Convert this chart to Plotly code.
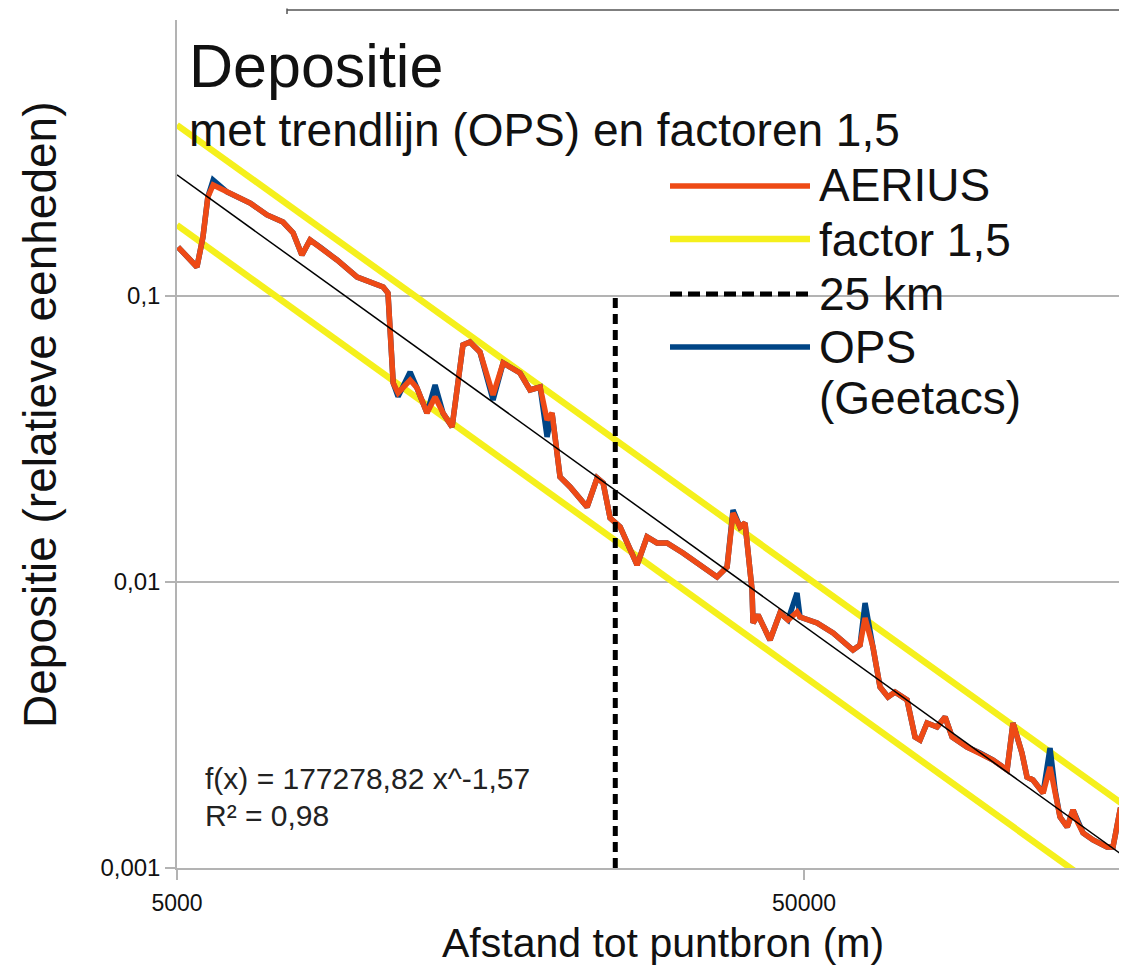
import math
import plotly.graph_objects as go

# ---------------- data ----------------
distance_m = [5020, 5380, 5500, 5600, 5710, 6010, 6540, 6960, 7380, 7660,
              7910, 8150, 8450, 9000, 9690, 10660, 10850, 11060, 11260, 11770,
              12070, 12520, 12900, 13280, 13730, 14290, 14660, 15210, 15960, 16560,
              17620, 18280, 18970, 19460, 19820, 20410, 21180, 22540, 23390, 23910,
              24530, 25450, 27080, 28090, 29140, 30230, 32060, 35020, 36330, 37690,
              38520, 39530, 40260, 41310, 41460, 42230, 44130, 45780, 47150, 48730,
              49270, 52450, 55630, 59850, 61420, 62560, 64410, 66100, 68060, 69840,
              73000, 75160, 76560, 78550, 81490, 83930, 86120, 90990, 95440, 100100,
              105400, 107700, 111300, 113400, 115900, 120300, 123400, 125700, 128000, 131400,
              134300, 136700, 139300, 144500, 152100, 155500, 159600, 163700]

aerius = [0.1483, 0.1263, 0.1608, 0.2220, 0.2444, 0.2310, 0.2114, 0.1920, 0.1814, 0.1661,
          0.1391, 0.1570, 0.1483, 0.1336, 0.1165, 0.1075, 0.1024, 0.04963, 0.04580, 0.05084,
          0.04768, 0.03899, 0.04434, 0.03899, 0.03483, 0.06741, 0.06905, 0.06370, 0.04506, 0.05832,
          0.05379, 0.04691, 0.04806, 0.03685, 0.03899, 0.02329, 0.02149, 0.01829, 0.02310, 0.02220,
          0.01674, 0.01557, 0.01147, 0.01437, 0.01369, 0.01369, 0.01263, 0.01102, 0.01041, 0.01128,
          0.01743, 0.01557, 0.01608, 0.009376, 0.007187, 0.007665, 0.006268, 0.007790, 0.007365, 0.007853,
          0.007543, 0.007187, 0.006631, 0.005784, 0.006021, 0.007482, 0.005926, 0.004294, 0.003962, 0.004125,
          0.003867, 0.002871, 0.002803, 0.003214, 0.003112, 0.003373, 0.002871, 0.002649, 0.002524, 0.002385,
          0.002202, 0.003214, 0.002524, 0.002080, 0.002031, 0.001829, 0.002255, 0.001874, 0.001508, 0.001391,
          0.001595, 0.001437, 0.001326, 0.001253, 0.001184, 0.001184, 0.001595, 0.001595]

ops = [0.1483, 0.1263, 0.1608, 0.2220, 0.2544, 0.2310, 0.2114, 0.1920, 0.1814, 0.1661,
       0.1391, 0.1570, 0.1483, 0.1336, 0.1165, 0.1075, 0.1024, 0.04963, 0.04450, 0.05425,
       0.04768, 0.03899, 0.04884, 0.03899, 0.03483, 0.06741, 0.06905, 0.06370, 0.04329, 0.05832,
       0.05379, 0.04691, 0.04806, 0.03214, 0.03899, 0.02329, 0.02149, 0.01829, 0.02310, 0.02220,
       0.01674, 0.01557, 0.01147, 0.01437, 0.01369, 0.01369, 0.01263, 0.01102, 0.01041, 0.01128,
       0.01786, 0.01557, 0.01608, 0.009376, 0.007187, 0.007665, 0.006268, 0.007790, 0.007365, 0.009153,
       0.007543, 0.007187, 0.006631, 0.005784, 0.006021, 0.008445, 0.005926, 0.004294, 0.003962, 0.004125,
       0.003867, 0.002871, 0.002803, 0.003214, 0.003112, 0.003373, 0.002871, 0.002649, 0.002524, 0.002385,
       0.002202, 0.003214, 0.002524, 0.002080, 0.002031, 0.001829, 0.002628, 0.001874, 0.001508, 0.001391,
       0.001595, 0.001437, 0.001326, 0.001253, 0.001184, 0.001184, 0.001595, 0.001595]

trend_x = [5000, 163700]
trend_y = [0.265, 0.00108]
factor_upper_y = [0.396, 0.00163]
factor_lower_y = [0.177, 0.00072]

km25_x = [25000, 25000]
km25_y = [0.001, 0.1]

x_tick_vals = [5000, 50000]
x_tick_text = ["5000", "50000"]
y_tick_vals = [0.001, 0.01, 0.1]
y_tick_text = ["0,001", "0,01", "0,1"]

legend_labels = ["AERIUS", "factor 1,5", "25 km", "OPS", "(Geetacs)"]

# ---------------- style ----------------
C_AERIUS = "#ee4a16"
C_OPS = "#004586"
C_YELLOW = "#f5f01c"
C_BLACK = "#000000"
FONT = "Liberation Sans"

# page offset of the plot div (default body margin)
OFF = 8
PAGE_W, PAGE_H = 1127, 967
PL, PT, PR, PB = 177, 20, 1127, 868   # plot area in page pixels
W, H = PAGE_W - OFF, PAGE_H - OFF
L, T = PL - OFF, PT - OFF
R = W - (PR - OFF)
B = H - (PB - OFF)
PW, PH = PR - PL, PB - PT


def px(x):
    return (x - PL) / PW


def py(y):
    return (PB - y) / PH


fig = go.Figure()
fig.add_trace(go.Scatter(x=trend_x, y=factor_upper_y, mode="lines",
                         line=dict(color=C_YELLOW, width=6.5), showlegend=False))
fig.add_trace(go.Scatter(x=trend_x, y=factor_lower_y, mode="lines",
                         line=dict(color=C_YELLOW, width=6.5), showlegend=False))
fig.add_trace(go.Scatter(x=distance_m, y=ops, mode="lines",
                         line=dict(color=C_OPS, width=5.5), showlegend=False))
fig.add_trace(go.Scatter(x=distance_m, y=aerius, mode="lines",
                         line=dict(color=C_AERIUS, width=5.5), showlegend=False))
fig.add_trace(go.Scatter(x=km25_x, y=km25_y, mode="lines",
                         line=dict(color=C_BLACK, width=5, dash="10px,6px"), showlegend=False))
fig.add_trace(go.Scatter(x=trend_x, y=trend_y, mode="lines",
                         line=dict(color=C_BLACK, width=1.5), showlegend=False))

shapes = []
annotations = []

# manual legend
leg_line_y = [186, 239, 294, 347]
leg_styles = [dict(color=C_AERIUS, width=5.5), dict(color=C_YELLOW, width=6.5),
              dict(color=C_BLACK, width=5, dash="12px,6px"), dict(color=C_OPS, width=5.5)]
for yy, st in zip(leg_line_y, leg_styles):
    shapes.append(dict(type="line", xref="paper", yref="paper",
                       x0=px(670), x1=px(810), y0=py(yy), y1=py(yy), line=st))
leg_text_y = [185, 240, 294, 347, 398]
for yy, t in zip(leg_text_y, legend_labels):
    annotations.append(dict(text=t, xref="paper", yref="paper", x=px(817), y=py(yy),
                            xanchor="left", yanchor="middle", showarrow=False, align="left",
                            font=dict(family=FONT, size=46, color="#111")))

# top frame decoration
shapes.append(dict(type="line", xref="paper", yref="paper", x0=px(287), x1=1.0,
                   y0=py(10), y1=py(10), line=dict(color="#555", width=1.5)))
shapes.append(dict(type="line", xref="paper", yref="paper", x0=px(287), x1=px(287),
                   y0=py(8.5), y1=py(14), line=dict(color="#555", width=1.5)))

annotations += [
    dict(text="Depositie", xref="paper", yref="paper", x=px(187), y=py(66),
         xanchor="left", yanchor="middle", showarrow=False,
         font=dict(family=FONT, size=61, color="#111")),
    dict(text="met trendlijn (OPS) en factoren 1,5", xref="paper", yref="paper",
         x=px(187), y=py(130), xanchor="left", yanchor="middle", showarrow=False,
         font=dict(family=FONT, size=46, color="#111")),
    dict(text="f(x) = 177278,82 x^-1,57", xref="paper", yref="paper",
         x=px(203), y=py(778), xanchor="left", yanchor="middle", showarrow=False,
         font=dict(family=FONT, size=30, color="#222")),
    dict(text="R² = 0,98", xref="paper", yref="paper",
         x=px(203), y=py(815), xanchor="left", yanchor="middle", showarrow=False,
         font=dict(family=FONT, size=30, color="#222")),
    dict(text="Depositie (relatieve eenheden)", xref="paper", yref="paper",
         x=px(40), y=py(415), xanchor="center", yanchor="middle", textangle=-90,
         showarrow=False, font=dict(family=FONT, size=46, color="#111")),
    dict(text="Afstand tot puntbron (m)", xref="paper", yref="paper",
         x=px(663), y=py(967), xanchor="center", yanchor="bottom", borderpad=0,
         showarrow=False, font=dict(family=FONT, size=41, color="#111")),
]

fig.update_layout(
    width=W, height=H,
    margin=dict(l=L, r=R, t=T, b=B, pad=0),
    paper_bgcolor="white", plot_bgcolor="white",
    showlegend=False,
    shapes=shapes, annotations=annotations,
    font=dict(family=FONT, color="#111"),
)
fig.update_xaxes(type="log", range=[math.log10(5000), math.log10(163700)],
                 tickvals=x_tick_vals, ticktext=x_tick_text,
                 ticks="outside", ticklen=10, tickcolor="#b3b3b3", tickwidth=1.5,
                 showgrid=False, zeroline=False, showline=True, linecolor="#b3b3b3", linewidth=1.5,
                 tickfont=dict(family=FONT, size=23, color="#111"), ticklabelstandoff=4)
fig.update_yaxes(type="log", range=[-3, -0.035],
                 tickvals=y_tick_vals, ticktext=y_tick_text,
                 ticks="outside", ticklen=10, tickcolor="#b3b3b3", tickwidth=1.5,
                 showgrid=True, gridcolor="#b3b3b3", gridwidth=1.5,
                 zeroline=False, showline=True, linecolor="#b3b3b3", linewidth=1.5,
                 tickfont=dict(family=FONT, size=24, color="#111"))

fig.write_html("out.html")
